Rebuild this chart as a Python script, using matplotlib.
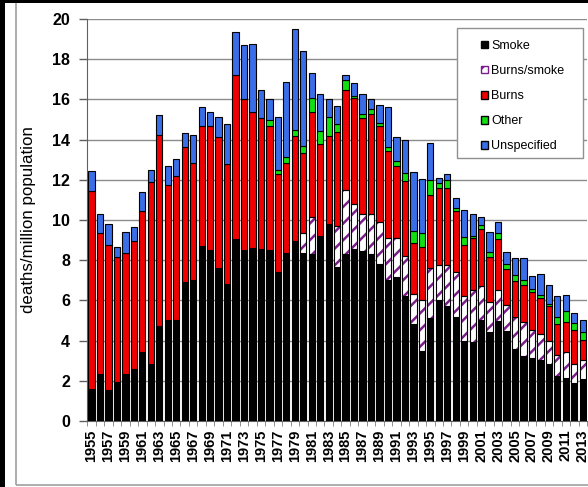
import matplotlib
matplotlib.use("Agg")
import matplotlib.pyplot as plt
from matplotlib.patches import Patch, Rectangle
import numpy as np

plt.rcParams['font.family'] = ['Liberation Sans', 'DejaVu Sans']
plt.rcParams['hatch.linewidth'] = 1.8

years = list(range(1955, 2014))

smoke = [1.61, 2.36, 1.56, 1.94, 2.32, 2.61, 3.44, 2.82, 4.71, 5.01,
         5.01, 6.92, 7.00, 8.70, 8.53, 7.63, 6.84, 9.03, 8.53, 8.63,
         8.58, 8.50, 7.42, 8.38, 8.96, 8.38, 8.30, 9.20, 9.79, 7.67,
         8.30, 8.58, 8.46, 8.30, 7.83, 7.00, 7.14, 6.21, 4.85, 3.49,
         5.10, 6.04, 5.71, 5.18, 3.98, 3.93, 5.01, 4.43, 4.96, 4.48,
         3.60, 3.24, 3.15, 3.05, 2.85, 2.22, 2.16, 1.89, 2.11]
burns_smoke = [0, 0, 0, 0, 0, 0, 0, 0, 0, 0,
               0, 0, 0, 0, 0, 0, 0, 0, 0, 0,
               0, 0, 0, 0, 0, 0.95, 1.86, 0, 0, 2.02,
               3.19, 2.21, 1.86, 2.02, 2.08, 2.11, 1.97, 1.99, 1.49, 2.52,
               2.49, 1.71, 2.04, 2.24, 2.23, 2.58, 1.70, 1.50, 1.55, 1.28,
               1.55, 1.69, 1.40, 1.27, 1.13, 1.05, 1.28, 0.96, 0.94]
burns = [9.83, 6.97, 7.22, 6.23, 6.06, 6.34, 7.00, 9.05, 9.51, 6.72,
         7.19, 6.69, 5.85, 5.99, 6.16, 6.48, 5.97, 8.18, 7.49, 6.76,
         6.47, 6.17, 4.85, 4.48, 5.21, 4.01, 5.23, 4.58, 4.38, 4.67,
         4.97, 5.29, 4.77, 4.95, 4.78, 4.33, 3.59, 3.73, 2.52, 2.65,
         3.65, 3.82, 3.82, 3.04, 2.57, 2.57, 2.82, 2.24, 2.54, 1.78,
         1.80, 1.83, 1.87, 1.80, 1.73, 1.54, 1.49, 1.66, 1.00]
other = [0, 0, 0, 0, 0, 0, 0, 0, 0, 0,
         0, 0, 0, 0, 0, 0, 0, 0, 0, 0,
         0, 0.33, 0.24, 0.29, 0.30, 0.34, 0.69, 0.66, 0.93, 0.44,
         0.50, 0.10, 0.18, 0.23, 0.15, 0.17, 0.25, 0.42, 0.58, 0.67,
         0.74, 0.25, 0.41, 0.16, 0.35, 0.12, 0.21, 0.24, 0.28, 0.26,
         0.30, 0.24, 0.17, 0.14, 0.13, 0.37, 0.55, 0.37, 0.38]
unspecified = [0.99, 0.99, 1.00, 0.49, 1.00, 0.71, 0.96, 0.64, 1.00, 0.97,
               0.81, 0.70, 1.37, 0.94, 0.70, 0.99, 1.95, 2.13, 2.69, 3.37,
               1.41, 1.00, 2.63, 3.73, 5.03, 4.73, 1.21, 1.83, 0.90, 0.87,
               0.25, 0.62, 1.00, 0.50, 0.88, 1.99, 1.19, 1.63, 2.96, 2.70,
               1.83, 0.25, 0.30, 0.48, 1.39, 1.12, 0.42, 0.97, 0.58, 0.61,
               0.88, 1.12, 0.61, 1.04, 0.92, 1.03, 0.81, 0.50, 0.58]

W, H = 588, 487
fig = plt.figure(figsize=(W / 100, H / 100), dpi=100)

# frame around the picture (screenshot look)
fig.patches.append(Rectangle((16 / W, 2 / H), 1.2, (H - 4) / H, transform=fig.transFigure,
                             fill=False, edgecolor='#a0a0a0', linewidth=1.2))
fig.patches.append(Rectangle((0, 0), 5 / W, 1, transform=fig.transFigure,
                             facecolor='black', edgecolor='none'))
fig.patches.append(Rectangle((0, 1 - 2.5 / H), 1, 2.5 / H, transform=fig.transFigure,
                             facecolor='black', edgecolor='none'))

ax = fig.add_axes([87.3 / W, (H - 421) / H, (587 - 87.3) / W, (421 - 19) / H])

x = np.arange(len(years))
bw = 0.74
edge = dict(edgecolor='black', linewidth=0.8)

bottom = np.zeros(len(years))
ax.bar(x, smoke, bw, bottom=bottom, color='black', zorder=3, **edge)
bottom += smoke
ax.bar(x, burns_smoke, bw, bottom=bottom, color='white', hatch='//',
       edgecolor='#7a1f8a', linewidth=0, zorder=3)
ax.bar(x, burns_smoke, bw, bottom=bottom, fill=False, zorder=4,
       edgecolor=[('black' if v > 0 else 'none') for v in burns_smoke], linewidth=0.8)
bottom += burns_smoke
ax.bar(x, burns, bw, bottom=bottom, color='#f00000', zorder=3, **edge)
bottom += burns
ax.bar(x, other, bw, bottom=bottom, color='#10e010', zorder=3,
       edgecolor=[('black' if v > 0 else 'none') for v in other], linewidth=0.8)
bottom += other
ax.bar(x, unspecified, bw, bottom=bottom, color='#3a6ee8', zorder=3, **edge)

ax.set_xlim(-0.5, len(years) - 0.5)
ax.set_ylim(0, 20)
ax.set_yticks(range(0, 21, 2))
ax.yaxis.grid(True, color='#8c8c8c', linewidth=1.0, zorder=0)
ax.tick_params(axis='y', length=5.5, width=1, color='#606060', pad=7,
               labelsize=11.5)
for lb in ax.get_yticklabels():
    lb.set_fontweight('bold')

ax.set_xticks(x[::2])
ax.set_xticklabels([str(y) for y in years[::2]], rotation=90, fontsize=10.5,
                   fontweight='bold')
ax.set_xticks(np.arange(-0.5, len(years), 1), minor=True)
ax.tick_params(axis='x', which='major', length=0, pad=6)
ax.tick_params(axis='x', which='minor', length=3.5, color='#808080')

for s in ['top', 'right']:
    ax.spines[s].set_visible(False)
ax.spines['left'].set_color('#606060')
ax.spines['bottom'].set_color('#606060')

ax.set_ylabel('deaths/million population', fontsize=12.2)
ax.yaxis.set_label_coords(-(87.3 - 36) / (587 - 87.3), 0.5)

# legend box
fig.patches.append(Rectangle((457 / W, (H - 158) / H), 126 / W, 130 / H,
                             transform=fig.transFigure, facecolor='white',
                             edgecolor='#909090', linewidth=1.0, zorder=5))
handles = [
    Patch(facecolor='black', edgecolor='black', label='Smoke'),
    Patch(facecolor='white', edgecolor='#7a1f8a', hatch='//', label='Burns/smoke'),
    Patch(facecolor='#f00000', edgecolor='black', label='Burns'),
    Patch(facecolor='#10e010', edgecolor='black', label='Other'),
    Patch(facecolor='#3a6ee8', edgecolor='black', label='Unspecified'),
]
leg = fig.legend(handles=handles, loc='upper left',
                 bbox_to_anchor=(471 / W, (H - 30) / H), frameon=False,
                 fontsize=9, handlelength=0.55, handleheight=0.55,
                 handletextpad=0.25, labelspacing=1.05, borderpad=0.3)
leg.set_zorder(6)

fig.savefig('out.png', dpi=100)
